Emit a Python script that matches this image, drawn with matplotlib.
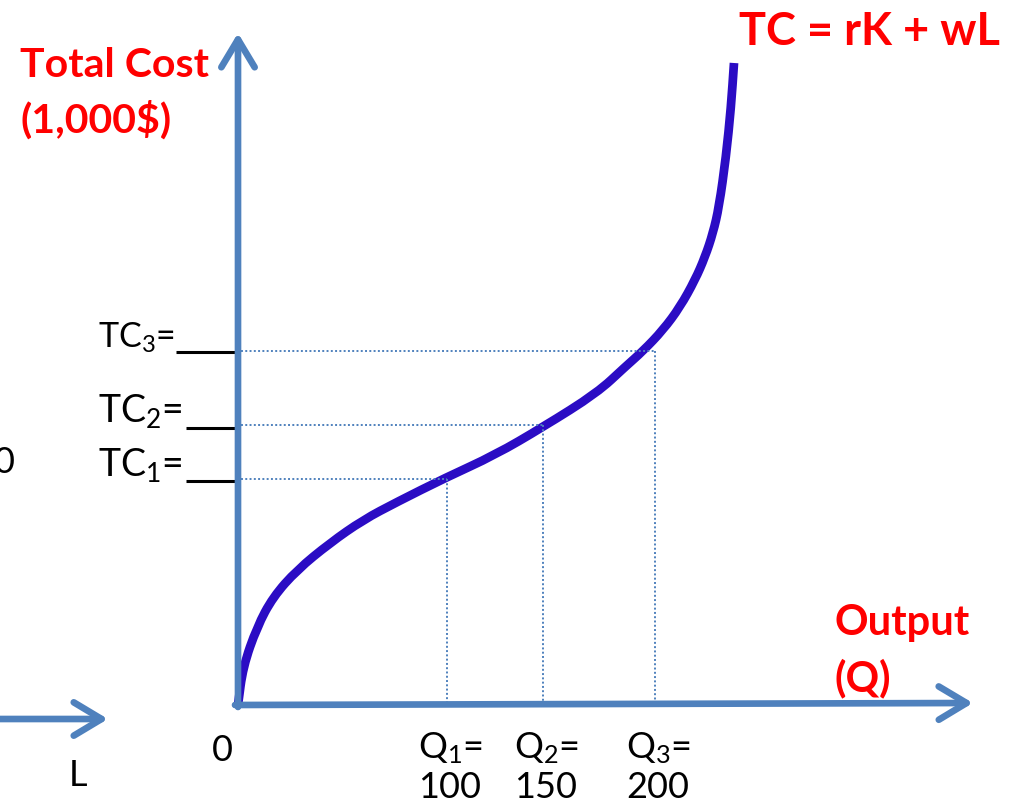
import numpy as np
import matplotlib.pyplot as plt
from matplotlib.path import Path
from matplotlib.patches import PathPatch

plt.rcParams['font.family'] = ['Lato', 'DejaVu Sans']
plt.rcParams['mathtext.fontset'] = 'custom'
plt.rcParams['mathtext.rm'] = 'Lato'
plt.rcParams['mathtext.it'] = 'Lato:italic'
plt.rcParams['mathtext.bf'] = 'Lato:bold'

# total cost curve (output units, cost units)
curve_q = [0, 5, 19, 35, 59, 92, 125, 159, 207, 257, 305, 359, 387, 405, 425, 442, 457, 467,
           475, 481, 488, 493, 496]
curve_tc = [0, 38, 78, 108, 135, 162, 185, 203, 227, 250, 278, 312, 338, 354, 375, 398, 425, 448,
            472, 498, 548, 598, 642]

# the three marked points
q_pos = [209, 305, 417]
tc_pos = [226, 280, 354]
q_labels = ["Q$_1$=\n100", "Q$_2$=\n150", "Q$_3$=\n200"]
tc_labels = [r"$\mathrm{TC}_1$=", r"$\mathrm{TC}_2$=", r"$\mathrm{TC}_3$="]

axis_blue = '#4F81BD'
curve_blue = '#2B0CC4'
red = '#FF0000'

fig = plt.figure(figsize=(10.16, 8.05), dpi=100)
ax = fig.add_axes([0, 0, 1, 1])
ax.set_xlim(-238, 778)
ax.set_ylim(-100, 705)
ax.axis('off')

arrow = dict(arrowstyle='->, head_length=1.0, head_width=0.6', color=axis_blue,
             lw=4.8, mutation_scale=20, shrinkA=0, shrinkB=0, capstyle='round')
# axes
ax.annotate('', xy=(0, 672), xytext=(0, -2), arrowprops=arrow)
ax.annotate('', xy=(735, 2), xytext=(-3, 0), arrowprops=arrow)
# stub of the neighbouring panel on the left
ax.annotate('', xy=(-130, -14), xytext=(-245, -14), arrowprops=arrow)

# dotted guides
for q, tc in zip(q_pos, tc_pos):
    ax.plot([3, q], [tc, tc], color=axis_blue, lw=1.4, ls=(0, (1, 1.2)))
    ax.plot([q, q], [tc, 3], color=axis_blue, lw=1.4, ls=(0, (1, 1.2)))

# smooth the read points with quadratic pieces through the midpoints
pts = np.column_stack([curve_q, curve_tc]).astype(float)
verts = [pts[0], (pts[0] + pts[1]) / 2]
codes = [Path.MOVETO, Path.LINETO]
for i in range(1, len(pts) - 1):
    verts += [pts[i], (pts[i] + pts[i + 1]) / 2]
    codes += [Path.CURVE3, Path.CURVE3]
verts.append(pts[-1])
codes.append(Path.LINETO)
ax.add_patch(PathPatch(Path(verts, codes), facecolor='none', edgecolor=curve_blue,
                       lw=6.3, capstyle='butt', joinstyle='round'))

# labels
ax.text(-218, 628, "Total Cost", color=red, fontsize=29.5, fontweight='bold', ha='left', va='baseline')
ax.text(-218, 572, "(1,000$)", color=red, fontsize=29.5, fontweight='bold', ha='left', va='baseline')
ax.text(762, 660, "TC = rK + wL", color=red, fontsize=32.5, fontweight='bold', ha='right', va='baseline')
ax.text(597, 70, "Output", color=red, fontsize=30, fontweight='bold', ha='left', va='baseline')
ax.text(597, 14, "(Q)", color=red, fontsize=30, fontweight='bold', ha='left', va='baseline')

for q, lab in zip(q_pos, q_labels):
    ax.text(q - 29, -93, lab, fontsize=26, ha='left', va='baseline', linespacing=1.2)

# TC labels with the blank to fill in
for tc, lab, fs in zip(tc_pos, tc_labels, [27, 27, 24.5]):
    ax.text(-140, tc + 3, lab, fontsize=fs, ha='left', va='baseline')
for tc, x0, dy in zip(tc_pos, [-52, -52, -62], [-2, -3, -1]):
    ax.plot([x0, -2], [tc + dy, tc + dy], color='black', lw=2.2, solid_capstyle='butt')

ax.text(-16, -45, "0", fontsize=26, ha='center', va='center')
ax.text(-160, -70, "L", fontsize=26, ha='center', va='center')
ax.text(-234, 243, "0", fontsize=26, ha='center', va='center')

fig.savefig('out.png', dpi=100)
